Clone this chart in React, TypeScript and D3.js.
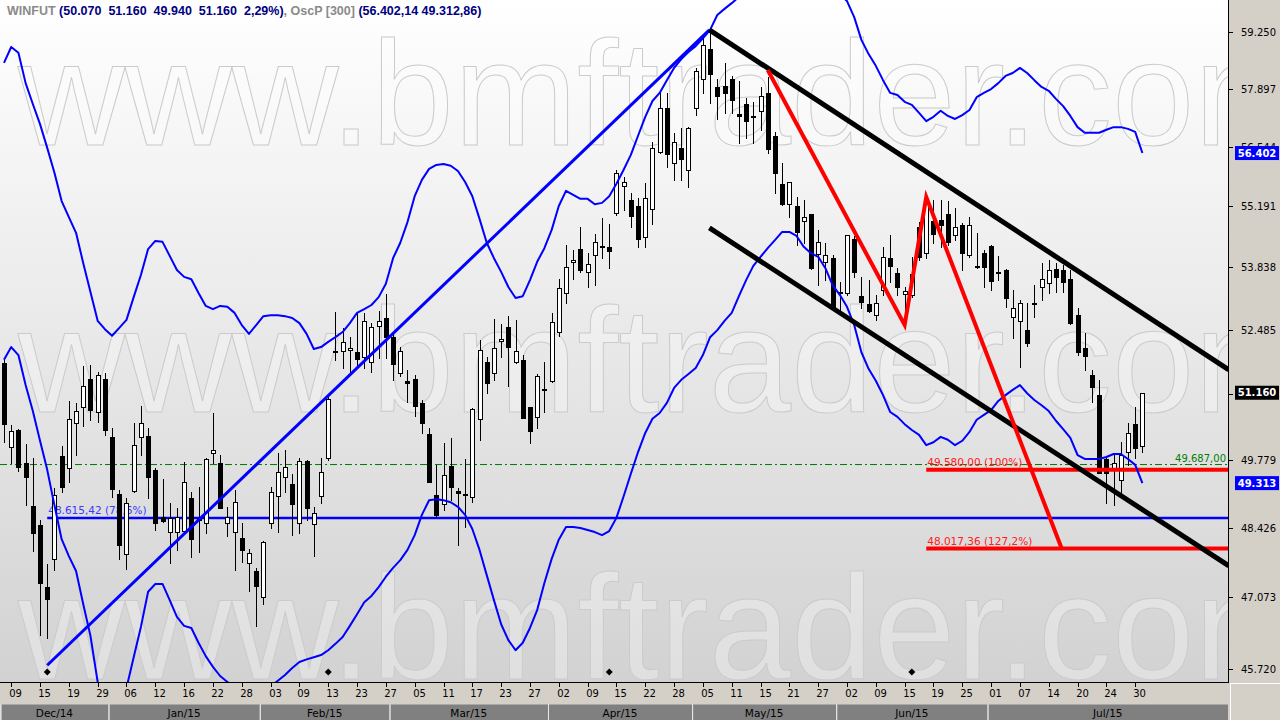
import React from "react";
import * as d3 from "d3";

// ---------- data ----------
const tickLabels = ["09","15","19","29","06","12","16","22","28","03","09","13","23","27","05","11","17","23","27","02","09","15","22","28","05","11","15","21","27","02","09","15","19","25","01","07","14","20","24","30"];
const monthLabels = ["Dec/14","Jan/15","Feb/15","Mar/15","Apr/15","May/15","Jun/15","Jul/15"];
const monthStart = [0, 15, 36, 54, 76, 96, 116, 137];

const open = [51780,50040,50390,49720,48850,48480,47270,47810,49860,49620,
 50530,50860,51450,50760,51450,50250,49090,47910,49150,50250,
 50270,49580,48640,48340,48340,48360,49010,48620,48520,49920,
 49720,48520,48340,48220,47740,47580,47080,48520,49050,49440,
 49300,48520,49760,48500,49050,49820,52040,52040,52060,52010,
 51910,51800,52570,52740,52330,51570,51410,51450,50950,50310,
 49070,48890,49660,49150,49100,49030,50620,51800,51570,52250,
 52550,51800,51850,50860,50660,51230,51410,52440,53280,53960,
 54240,53740,54110,54280,54290,55040,55650,55330,55200,54510,
 55130,56430,57450,56170,56520,56010,57450,58130,58840,57940,
 57960,58130,57310,57540,57250,57380,57800,56800,55700,55240,
 55200,54860,55020,54130,53960,54040,53310,53280,54470,53210,
 53040,52800,53350,54040,53720,53260,53240,54730,54150,54860,
 54890,55020,54550,54780,54110,53860,54150,54310,53730,53780,
 52760,52680,52480,53070,53410,53500,53800,53780,53580,52800,
 52100,51530,51110,49800,49580,49380,49940,50510,50070];
const high = [51850,50490,50410,50100,49820,48580,47720,49210,50060,50990,
 50950,51720,51740,51590,51570,50430,49180,49010,50530,50880,
 50430,49620,49400,48910,48820,49740,49130,49240,49810,50740,
 49880,48840,49180,48520,48010,47640,48160,49240,49920,49980,
 49500,49820,49780,48840,49820,51070,52870,52530,52330,52850,
 52850,52630,52890,53260,52420,52120,51640,51530,51010,50430,
 49680,50120,50230,49220,49800,50840,52270,51910,52720,52610,
 52780,52700,51950,50870,51550,51800,52850,53580,54330,54220,
 54730,54150,54580,54930,54800,56010,55860,55490,55380,55720,
 56660,57800,57800,56870,56980,57000,58390,59130,59250,58130,
 58510,58200,58080,57680,57590,57940,58180,56890,56170,55750,
 55400,55330,55030,54660,54380,54110,53520,54560,54530,53630,
 53560,53240,54290,54550,53820,53410,54070,54840,55400,55330,
 55330,55310,55160,54820,54950,54600,54220,54320,54090,53800,
 53350,53130,53060,53450,53930,54000,53930,53890,53780,52960,
 52420,51640,51430,49840,49920,50150,50530,50860,51160];
const low = [50140,49720,49560,48870,47970,46360,46300,47600,49130,49340,
 49880,50470,50600,50560,50290,49030,47810,47620,49130,49880,
 49010,48380,48540,47740,47990,48340,47850,47950,48320,49720,
 48810,48260,47600,47750,47200,46530,46940,48420,48340,49130,
 48280,48320,48580,47870,48910,49780,51850,51680,51530,51680,
 51680,51590,51890,51890,51430,51510,50970,50680,50330,49330,
 48640,48780,48970,48090,48440,48930,50190,51150,51430,51910,
 51300,51780,50630,50120,50430,50760,51390,52350,53060,53580,
 53740,53410,53450,54040,53820,55000,55110,54730,54290,54290,
 54800,56400,56080,55790,55790,55630,57280,57800,57560,57190,
 57330,57330,56630,56750,56630,56930,56400,55490,55230,54950,
 54330,54380,53810,53450,53560,52910,52910,53240,53630,52960,
 52870,52700,53240,53520,53240,52560,53190,54000,54040,54380,
 54290,54330,54440,53780,54070,53820,53410,53350,53560,52980,
 52310,51700,52140,52760,53130,53280,53300,53300,52620,51950,
 51640,50970,49510,48910,48870,49030,49680,49820,49940];
const close = [50510,50370,49640,49440,48320,47350,47040,49070,49240,50620,
 50780,51300,50800,51530,50390,49200,48090,48910,50080,50530,
 49440,48520,48560,48620,48640,49340,48200,48580,49800,49980,
 48820,48640,48930,47990,47930,47290,48150,49130,49540,49640,
 48890,49760,48820,48720,49540,51030,52010,52230,52100,51870,
 52680,52550,52680,52330,51760,52040,51360,50880,50530,49340,
 48680,49480,49240,49110,49080,50820,52060,51360,52100,52290,
 52120,52040,50640,50370,51510,51210,52650,53390,53850,54000,
 53780,53910,54400,54300,54200,55950,55740,54980,54470,55380,
 56520,57450,56380,56660,56270,56980,58320,58940,58250,57730,
 57800,57630,57260,57140,57230,57730,56500,55950,55240,55740,
 54620,54950,53820,54400,54110,52960,53290,54550,53740,53080,
 52890,53060,54070,53870,53410,53320,53690,54070,55330,54580,
 54780,54400,54730,54150,54780,53840,53850,53540,53710,53170,
 52960,53060,52210,53050,53580,53780,53630,53520,52630,52010,
 51930,51280,49520,49520,49720,49880,50330,50015,51160];

// OscP [300] envelope (upper / lower)
const upperBand = [58510,58890,58750,58030,57540,57070,56520,55950,55310,54950,
 54600,53930,53300,52680,52500,52360,52530,52700,53190,53670,
 54240,54420,54400,54090,53780,53630,53580,53280,53000,52930,
 53000,52980,52850,52590,52400,52590,52780,52800,52800,52780,
 52740,52630,52400,52080,52120,52230,52330,52440,52630,52850,
 52930,53020,53190,53480,54040,54380,54840,55420,55790,56040,
 56130,56150,56110,55990,55740,55420,54910,54380,54040,53740,
 53410,53170,53210,53560,53960,54260,54660,55200,55540,55450,
 55360,55360,55240,55270,55420,55700,56020,56360,56800,57240,
 57610,57800,58100,58390,58600,58770,58910,59100,59300,59660,
 59810,59950,60100,60270,60440,60620,60770,60860,60910,60940,
 60910,60890,60840,60720,60540,60370,60170,60000,59610,59060,
 58720,58440,58100,57800,57750,57590,57520,57330,57140,57240,
 57380,57260,57190,57280,57400,57700,57800,57890,58030,58200,
 58270,58390,58270,58100,57940,57850,57660,57490,57260,57000,
 56870,56870,56870,56940,57000,57000,56960,56890,56402.14];
const lowerBand = [51850,52120,51950,51320,50780,50170,49580,48870,48200,47870,
 47580,46940,46340,45480,45240,45150,45220,45370,45940,46510,
 47180,47330,47330,47020,46700,46530,46490,46210,45960,45760,
 45590,45480,45390,45330,45330,45330,45350,45400,45500,45610,
 45740,45850,45900,45940,45980,46070,46190,46320,46530,46750,
 46980,47100,47270,47470,47640,47790,47990,48280,48680,48970,
 48990,48970,48930,48840,48680,48400,47990,47500,47020,46560,
 46260,46070,46210,46490,46830,47350,47810,48190,48440,48440,
 48420,48380,48340,48280,48360,48620,49050,49500,49940,50330,
 50620,50740,50950,51260,51430,51550,51680,51950,52330,52480,
 52680,52850,53210,53560,53870,54070,54260,54440,54620,54620,
 54530,54290,54150,54070,53820,53450,53240,52980,52590,52010,
 51660,51410,51110,50760,50660,50510,50390,50290,50080,50140,
 50250,50190,50080,50170,50350,50600,50700,50800,50990,51110,
 51220,51320,51150,51010,50900,50780,50580,50410,50230,49880,
 49800,49800,49800,49840,49900,49900,49800,49680,49312.86];

const priceTicks = [45720, 47073, 48426, 49779, 51132, 52485, 53838, 55191, 56544, 57897, 59250];

// drawing tools (index, price anchors)
const trendUp = [{ i: 6, v: 45790 }, { i: 97.9, v: 59300 }];
const channelTop = [{ i: 97.9, v: 59300 }, { i: 170, v: 51640 }];
const channelBottom = [{ i: 97.9, v: 54710 }, { i: 170, v: 47680 }];
const fiboPath = [{ i: 106, v: 58340 }, { i: 125, v: 52590 }, { i: 128, v: 55400 }, { i: 146.8, v: 48017.36 }];
const fiboLevels = [{ v: 49580, label: "49.580,00 (100%)" }, { v: 48017.36, label: "48.017,36 (127,2%)" }];
const fiboStart = 128;
const retrace = { v: 48615.42, label: "48.615,42 (78,6%)", start: 6 };
const refLevel = { v: 49687, label: "49.687,00" };
const expiryIdx = [6, 45, 84, 126];

// ---------- chart ----------
const ptBR = d3.formatLocale({ decimal: ",", thousands: ".", grouping: [3], currency: ["R$", ""] });
const f0 = ptBR.format(",.0f");
const f2 = ptBR.format(",.2f");

const PLOT_R = 1228;
const PLOT_B = 682;
const FONT = "'DejaVu Sans', Verdana, sans-serif";

export default function App() {
  const n = close.length;
  const x = d3.scaleLinear().domain([0, n - 1]).range([4, 1142.4]);
  const y = d3.scaleLog().domain([45720, 59250]).range([669, 32]);

  const bandLine = d3.line<number>().x((_, i) => x(i)).y((d) => y(d));
  const anchorLine = d3.line<{ i: number; v: number }>().x((d) => x(d.i)).y((d) => y(d.v));

  const last = n - 1;
  const pct = (close[last] / close[last - 1] - 1) * 100;
  const step = x(1) - x(0);

  const wm = "www.bmftrader.com";
  const wmRows = [145, 412, 679];

  return (
    <svg width={1280} height={720} style={{ position: "fixed", left: 0, top: 0, background: "#d4d0c8" }}>
      <defs>
        <linearGradient id="bg" x1="0" y1="0" x2="0" y2="1">
          <stop offset="0" stopColor="#ffffff" />
          <stop offset="1" stopColor="#d2d2d2" />
        </linearGradient>
        <clipPath id="plotClip">
          <rect x={0} y={0} width={PLOT_R} height={PLOT_B} />
        </clipPath>
      </defs>

      <rect x={0} y={0} width={1280} height={720} fill="#d4d0c8" />
      <rect x={0} y={0} width={PLOT_R} height={PLOT_B} fill="url(#bg)" />

      <g clipPath="url(#plotClip)">
        {/* watermark */}
        {wmRows.map((by, k) => (
          <text key={k} x={18} y={by} fontFamily="'Liberation Sans', Arial, sans-serif" fontSize={148}
            fill="rgba(255,255,255,0.3)" stroke="#cbcbcb" strokeWidth={1}>{wm}</text>
        ))}

        {/* reference dash-dot line */}
        <line x1={0} x2={PLOT_R} y1={y(refLevel.v)} y2={y(refLevel.v)} stroke="#007a00" strokeWidth={1} strokeDasharray="7,3,2,3" />
        <text x={PLOT_R - 2} y={y(refLevel.v) - 3} textAnchor="end" fontFamily={FONT} fontSize={10} fill="#008000">{refLevel.label}</text>

        {/* retracement level */}
        <text x={x(retrace.start) + 1} y={y(retrace.v) - 4} fontFamily={FONT} fontSize={10.5} fill="#3a3aff">{retrace.label}</text>
        <line x1={x(retrace.start)} x2={PLOT_R} y1={y(retrace.v)} y2={y(retrace.v)} stroke="#0000ff" strokeWidth={2.5} />

        {/* fibo labels */}
        {fiboLevels.map((l, k) => (
          <text key={k} x={x(fiboStart) + 1} y={y(l.v) - 4} fontFamily={FONT} fontSize={10.5} fill="#ff2020">{l.label}</text>
        ))}

        {/* candles */}
        {open.map((o, i) => {
          const cx = Math.round(x(i)) + 0.5;
          const c = close[i];
          const yo = y(o), yc = y(c);
          const top = Math.round(Math.min(yo, yc)) + 0.5;
          const bot = Math.round(Math.max(yo, yc)) + 0.5;
          const bull = c >= o;
          return (
            <g key={i}>
              <line x1={cx} x2={cx} y1={Math.round(y(high[i]))} y2={Math.round(y(low[i])) + 1} stroke="#000" strokeWidth={1} />
              {bot - top < 1.5 ? (
                <rect x={cx - 2.5} y={top - 0.5} width={5} height={2} fill="#000" />
              ) : (
                <rect x={cx - 2} y={top} width={4} height={bot - top} fill={bull ? "#ffffff" : "#000000"} stroke="#000" strokeWidth={1} />
              )}
            </g>
          );
        })}

        {/* fibo horizontal levels */}
        {fiboLevels.map((l, k) => (
          <line key={k} x1={x(fiboStart)} x2={PLOT_R} y1={y(l.v)} y2={y(l.v)} stroke="#ff0000" strokeWidth={4} />
        ))}

        {/* envelope bands */}
        <path d={bandLine(upperBand) || ""} fill="none" stroke="#0000ff" strokeWidth={2} strokeLinejoin="round" />
        <path d={bandLine(lowerBand) || ""} fill="none" stroke="#0000ff" strokeWidth={2} strokeLinejoin="round" />

        {/* trend lines */}
        <path d={anchorLine(trendUp) || ""} fill="none" stroke="#0000ff" strokeWidth={3} />
        <path d={anchorLine(channelTop) || ""} fill="none" stroke="#000" strokeWidth={5} />
        <path d={anchorLine(channelBottom) || ""} fill="none" stroke="#000" strokeWidth={5} />
        <path d={anchorLine(fiboPath) || ""} fill="none" stroke="#ff0000" strokeWidth={4} strokeLinejoin="miter" />

        {/* expiry markers */}
        {expiryIdx.map((i) => {
          const cx = x(i), cy = 672;
          return <path key={i} d={`M${cx},${cy - 3.5}L${cx + 3.5},${cy}L${cx},${cy + 3.5}L${cx - 3.5},${cy}Z`} fill="#000" />;
        })}
      </g>

      {/* title */}
      <text x={7} y={15} fontFamily="'Liberation Sans', Arial, sans-serif" fontSize={12.5} fontWeight="bold" style={{ whiteSpace: "pre" }}>
        <tspan fill="#8a8a8a">WINFUT </tspan>
        <tspan fill="#000080">{`(${f0(open[last])}  ${f0(high[last])}  ${f0(low[last])}  ${f0(close[last])}  ${f2(pct)}%)`}</tspan>
        <tspan fill="#8a8a8a">, OscP [300] </tspan>
        <tspan fill="#000080">{`(${f2(upperBand[last])} ${f2(lowerBand[last])})`}</tspan>
      </text>

      {/* axes frame */}
      <line x1={PLOT_R + 0.5} x2={PLOT_R + 0.5} y1={0} y2={PLOT_B + 1} stroke="#000" strokeWidth={1} />
      <line x1={0} x2={PLOT_R + 1} y1={PLOT_B + 0.5} y2={PLOT_B + 0.5} stroke="#000" strokeWidth={1} />
      <line x1={PLOT_R + 2.5} x2={PLOT_R + 2.5} y1={PLOT_B + 1} y2={720} stroke="#ffffff" strokeWidth={1} />
      <line x1={PLOT_R + 2} x2={1280} y1={PLOT_B + 1.5} y2={PLOT_B + 1.5} stroke="#ffffff" strokeWidth={1} />

      {/* right price axis */}
      {priceTicks.map((t) => {
        const ty = Math.round(y(t)) + 0.5;
        return (
          <g key={t}>
            <line x1={PLOT_R + 1} x2={PLOT_R + 5} y1={ty} y2={ty} stroke="#000" />
            <text x={1241} y={ty} dominantBaseline="central" fontFamily={FONT} fontSize={10} fill="#000">{f0(t)}</text>
          </g>
        );
      })}

      {/* last value badges */}
      {[
        { v: upperBand[last], bg: "#0000ff" },
        { v: lowerBand[last], bg: "#0000ff" },
        { v: close[last], bg: "#000000" },
      ].map((b, k) => {
        const by = y(b.v);
        return (
          <g key={k}>
            <rect x={1235} y={by - 7} width={44} height={14} fill={b.bg} />
            <text x={1257} y={by} textAnchor="middle" dominantBaseline="central" fontFamily={FONT} fontSize={10} fontWeight="bold" fill="#ffffff">{f0(b.v)}</text>
          </g>
        );
      })}

      {/* bottom date axis */}
      {tickLabels.map((lab, k) => {
        const i = 1 + 4 * k;
        const tx = Math.round(x(i)) + 0.5;
        return (
          <g key={k}>
            <line x1={tx} x2={tx} y1={PLOT_B + 1} y2={PLOT_B + 5} stroke="#000" />
            <text x={tx + 4} y={693} textAnchor="middle" dominantBaseline="central" fontFamily={FONT} fontSize={10} fill="#000">{lab}</text>
          </g>
        );
      })}

      {monthLabels.map((m, k) => {
        const x0 = Math.max(0, x(monthStart[k]) - step / 2);
        const x1 = k + 1 < monthStart.length ? x(monthStart[k + 1]) - step / 2 : PLOT_R;
        return (
          <g key={m}>
            <rect x={x0 + 1} y={704} width={x1 - x0 - 1} height={16} fill="#808080" />
            <line x1={x0 + 1} x2={x1} y1={704.5} y2={704.5} stroke="#a8a8a8" />
            <line x1={x0 + 0.5} x2={x0 + 0.5} y1={704} y2={720} stroke="#e8e8e8" />
            <text x={(x0 + x1) / 2} y={713} textAnchor="middle" dominantBaseline="central" fontFamily={FONT} fontSize={10.5} fill="#000">{m}</text>
          </g>
        );
      })}
    </svg>
  );
}
